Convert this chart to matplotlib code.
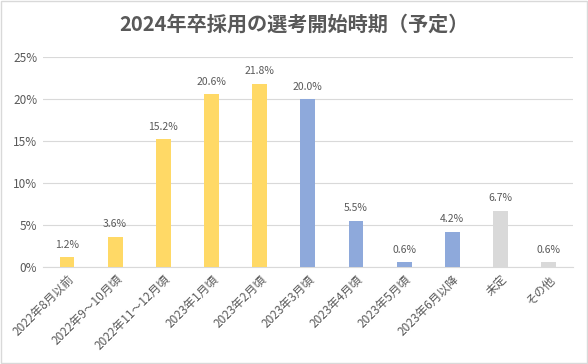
import matplotlib.pyplot as plt
from matplotlib.patches import Rectangle

plt.rcParams['font.family'] = ['Noto Sans CJK JP', 'DejaVu Sans']

categories = ["2022年8月以前", "2022年9～10月頃", "2022年11～12月頃", "2023年1月頃",
              "2023年2月頃", "2023年3月頃", "2023年4月頃", "2023年5月頃",
              "2023年6月以降", "未定", "その他"]
values = [1.2, 3.6, 15.2, 20.6, 21.8, 20.0, 5.5, 0.6, 4.2, 6.7, 0.6]
groups = ["y", "y", "y", "y", "y", "b", "b", "b", "b", "g", "g"]
yticks = [0, 5, 10, 15, 20, 25]

palette = {"y": "#FFD966", "b": "#8EA9DB", "g": "#D9D9D9"}
grey = "#595959"

fig = plt.figure(figsize=(5.88, 3.64), dpi=100)
ax = fig.add_axes([0.073, 0.266, 0.901, 0.577])

x = range(len(categories))
ax.bar(x, values, width=0.31, color=[palette[g] for g in groups], zorder=3)

for xi, v in zip(x, values):
    ax.text(xi, v + 0.9, f"{v:.1f}%", ha="center", va="bottom", fontsize=7.5, color=grey)

ax.set_xlim(-0.5, len(categories) - 0.5)
ax.set_ylim(0, 25)
ax.set_yticks(yticks)
ax.set_yticklabels([f"{t}%" for t in yticks], fontsize=8.5, color=grey)
ax.set_xticks(list(x))
ax.set_xticklabels(categories, rotation=45, ha="right", rotation_mode="anchor",
                   fontsize=8.5, color=grey)

ax.grid(axis="y", color="#D9D9D9", linewidth=0.8, zorder=0)
for s in ["top", "right", "left"]:
    ax.spines[s].set_visible(False)
ax.spines["bottom"].set_color("#D9D9D9")
ax.tick_params(axis="both", length=0, pad=4)

fig.text(0.5, 0.935, "2024年卒採用の選考開始時期（予定）", ha="center", va="center",
         fontsize=14.5, fontweight="bold", color=grey)

fig.patches.append(Rectangle((0.002, 0.003), 0.996, 0.994, transform=fig.transFigure,
                             fill=False, edgecolor="#D9D9D9", linewidth=1))

fig.savefig("out.png", dpi=100)
